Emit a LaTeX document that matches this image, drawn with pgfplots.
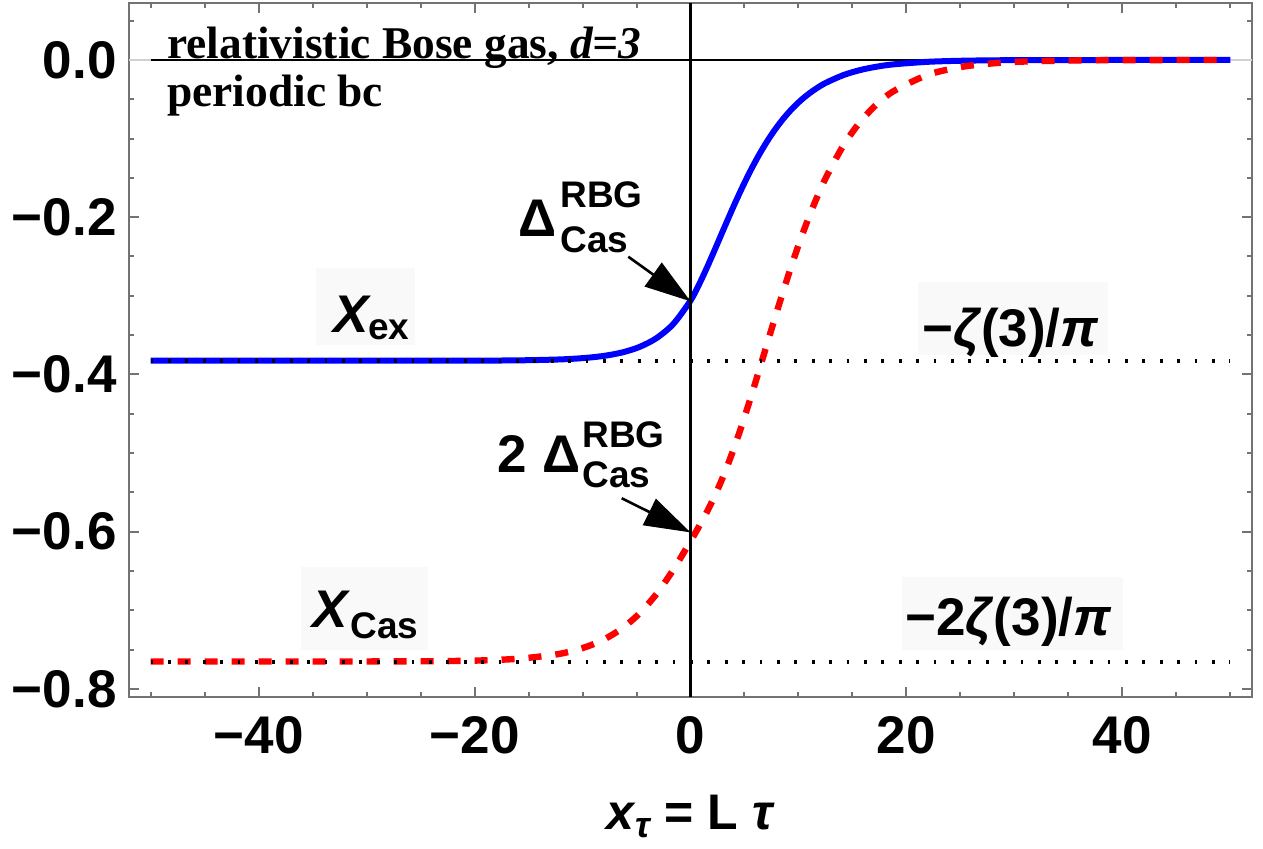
\documentclass[border=0pt]{standalone}
\usepackage{fontspec}
\usepackage{pgfplots}
\usepackage{pgfplotstable}
\pgfplotsset{compat=1.18}
\usetikzlibrary{arrows.meta}
\setmainfont{Liberation Sans}
\newfontfamily\lserif{Liberation Serif}
\definecolor{framegray}{gray}{0.45}
\definecolor{mblue}{rgb}{0,0,1}
\definecolor{mred}{rgb}{1,0,0}
\definecolor{boxgray}{gray}{0.975}
\newcommand{\fsA}{\fontsize{26.5pt}{30pt}\selectfont\bfseries}
\newcommand{\fsS}{\fontsize{18.5pt}{20pt}\selectfont\bfseries}
\newcommand{\fsL}{\fontsize{25pt}{28pt}\selectfont\bfseries}
\newcommand{\fsT}{\lserif\fontsize{22.7pt}{26pt}\selectfont\bfseries}

\pgfplotstableread{
x y
-50 -0.38263
-31.416 -0.38262
-25.133 -0.38260
-21.991 -0.38255
-18.850 -0.38243
-15.708 -0.38209
-12.566 -0.38117
-10.996 -0.38023
-9.425 -0.37867
-7.854 -0.37612
-6.283 -0.37192
-4.712 -0.36503
-3.142 -0.35378
-1.571 -0.33551
0 -0.30611
0.785 -0.28579
1.571 -0.26265
2.356 -0.23797
3.142 -0.21283
3.927 -0.18811
4.712 -0.16449
5.498 -0.14243
6.283 -0.12225
7.069 -0.10410
7.854 -0.08803
8.639 -0.07397
9.425 -0.06181
10.210 -0.05140
10.996 -0.04256
11.781 -0.03510
12.566 -0.02885
14.137 -0.01932
15.708 -0.01282
17.279 -0.00844
18.850 -0.00551
21.991 -0.00232
25.133 -0.00096
28.274 -0.00039
31.416 -0.00016
37.699 -0.00003
50 0
}\bluedata

\pgfplotstableread{
x y
-50 -0.76525
-31.416 -0.76521
-25.133 -0.76499
-21.991 -0.76460
-18.850 -0.76368
-15.708 -0.76150
-12.566 -0.75652
-10.996 -0.75206
-9.425 -0.74551
-7.854 -0.73601
-6.283 -0.72253
-4.712 -0.70391
-3.142 -0.67915
-1.571 -0.64802
0 -0.61222
0.785 -0.59353
1.571 -0.57351
2.356 -0.55115
3.142 -0.52589
3.927 -0.49756
4.712 -0.46641
5.498 -0.43295
6.283 -0.39793
7.069 -0.36219
7.854 -0.32658
8.639 -0.29188
9.425 -0.25871
10.210 -0.22757
10.996 -0.19879
11.781 -0.17256
12.566 -0.14893
14.137 -0.10926
15.708 -0.07878
17.279 -0.05601
18.850 -0.03934
21.991 -0.01885
25.133 -0.00876
28.274 -0.00397
31.416 -0.00176
37.699 -0.00033
50 0
}\reddata

\begin{document}
\begin{tikzpicture}
\useasboundingbox (-64.5pt,-76pt) rectangle (567pt,348.5pt);
\begin{axis}[
  at={(0,0)}, anchor=south west,
  width=561.5pt, height=347pt, scale only axis,
  xmin=-52, xmax=52, ymin=-0.8104, ymax=0.0725,
  clip=false,
  axis line style={framegray, line width=1pt},
  tick style={framegray, line width=1pt},
  major tick length=5pt, minor tick length=2.5pt,
  tick align=inside,
  xtick={-40,-20,0,20,40},
  xticklabels={−40,−20,0,20,40},
  ytick={-0.8,-0.6,-0.4,-0.2,0},
  yticklabels={−0.8,−0.6,−0.4,−0.2,0.0},
  minor xtick={-50,-45,-35,-30,-25,-15,-10,-5,5,10,15,25,30,35,45,50},
  minor ytick={-0.75,-0.7,-0.65,-0.55,-0.5,-0.45,-0.35,-0.3,-0.25,-0.15,-0.1,-0.05,0.05},
  xticklabel style={font=\fsA, inner sep=0pt, yshift=-9.5pt},
  yticklabel style={font=\fsA, inner sep=0pt, xshift=-6pt},
]
% faint label backgrounds
\fill[boxgray] (axis cs:-34.7,-0.2646) rectangle (axis cs:-25.5,-0.3626);
\fill[boxgray] (axis cs:-36.1,-0.645) rectangle (axis cs:-24.3,-0.7506);
\fill[boxgray] (axis cs:21.07,-0.2824) rectangle (axis cs:38.67,-0.3753);
\fill[boxgray] (axis cs:19.56,-0.6574) rectangle (axis cs:40.08,-0.7506);
% axes lines
\draw[black!18, line width=1pt] (axis cs:-52,0) -- (axis cs:52,0);
\draw[black, line width=1pt] (axis cs:-50,0) -- (axis cs:50,0);
% curves
\addplot[mblue, line width=3pt, smooth] table {\bluedata};
\addplot[mred, line width=3.2pt, smooth, dash pattern=on 6.5pt off 7pt] table {\reddata};
% vertical line and asymptotes
\draw[black, line width=1.3pt] (axis cs:0,-0.8104) -- (axis cs:0,0.0725);
\draw[black, line width=2pt, dash pattern=on 1.4pt off 7.3pt] (axis cs:-50,-0.382627) -- (axis cs:50,-0.382627);
\draw[black, line width=2pt, dash pattern=on 1.4pt off 7.3pt] (axis cs:-50,-0.765254) -- (axis cs:50,-0.765254);
% texts
\node[anchor=base west, inner sep=0pt, font=\fsT] at (axis cs:-48.48,0.0013) {relativistic Bose gas, \textit{d=3}};
\node[anchor=base west, inner sep=0pt, font=\fsT] at (axis cs:-48.48,-0.0598) {periodic bc};
% Delta labels
\node[anchor=base west, inner sep=0pt, font=\fsA] at (axis cs:-15.98,-0.2252) {Δ};
\node[anchor=base west, inner sep=0pt, font=\fsS] at (axis cs:-12.09,-0.1883) {RBG};
\node[anchor=base west, inner sep=0pt, font=\fsS] at (axis cs:-12.09,-0.2443) {Cas};
\draw[black, line width=1.3pt, -{Triangle[length=23pt, width=14.5pt]}] (axis cs:-5.76,-0.2503) -- (axis cs:0,-0.307);
\node[anchor=base west, inner sep=0pt, font=\fsA] at (axis cs:-17.92,-0.5254) {2};
\node[anchor=base west, inner sep=0pt, font=\fsA] at (axis cs:-13.75,-0.5254) {Δ};
\node[anchor=base west, inner sep=0pt, font=\fsS] at (axis cs:-10.05,-0.4936) {RBG};
\node[anchor=base west, inner sep=0pt, font=\fsS] at (axis cs:-10.05,-0.5445) {Cas};
\draw[black, line width=1.3pt, -{Triangle[length=23pt, width=14.5pt]}] (axis cs:-6.37,-0.5576) -- (axis cs:0,-0.601);
% X labels
\node[anchor=base west, inner sep=0pt, font=\fsA] at (axis cs:-33.11,-0.3461) {\textit{X}};
\node[anchor=base west, inner sep=0pt, font=\fsS] at (axis cs:-29.87,-0.3562) {ex};
\node[anchor=base west, inner sep=0pt, font=\fsA] at (axis cs:-35.05,-0.7214) {\textit{X}};
\node[anchor=base west, inner sep=0pt, font=\fsS] at (axis cs:-31.53,-0.7354) {Cas};
% zeta labels
\node[anchor=base west, inner sep=0pt, font=\fsA] at (axis cs:21.41,-0.3648) {−\textit{ζ}(3)/\textit{π}};
\node[anchor=base west, inner sep=0pt, font=\fsA] at (axis cs:19.86,-0.7316) {−2\textit{ζ}(3)/\textit{π}};
% x label
\node[anchor=base, inner sep=0pt, font=\fsL] at (axis cs:0,-0.9796) {\textit{x}\raisebox{-4pt}{\fontsize{18pt}{20pt}\selectfont\bfseries\itshape τ} = L \textit{τ}};
\end{axis}
\end{tikzpicture}
\end{document}
